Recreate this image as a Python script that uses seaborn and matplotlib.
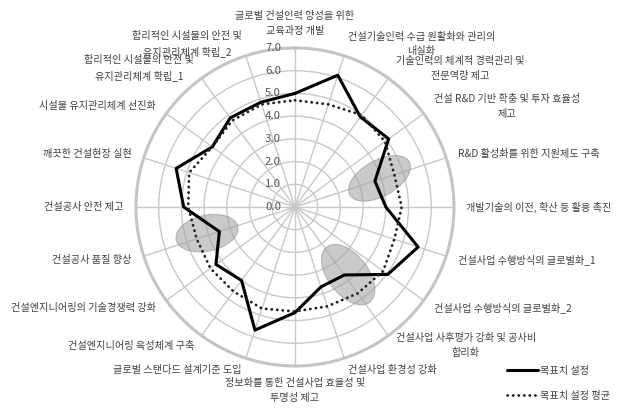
import numpy as np
import pandas as pd
import matplotlib
matplotlib.use("Agg")
import matplotlib.pyplot as plt
import seaborn as sns
from matplotlib.patches import Ellipse
from matplotlib.transforms import IdentityTransform, offset_copy

# categories, clockwise from the top
categories = [
    "글로벌 건설인력 양성을 위한\n교육과정 개발",
    "건설기술인력 수급 원활화와 관리의\n내실화",
    "기술인력의 체계적 경력관리 및\n전문역량 제고",
    "건설 R&D 기반 확충 및 투자 효율성\n제고",
    "R&D 활성화를 위한 지원제도 구축",
    "개발기술의 이전, 확산 등 활용 촉진",
    "건설사업 수행방식의 글로벌화_1",
    "건설사업 수행방식의 글로벌화_2",
    "건설사업 사후평가 강화 및 공사비\n합리화",
    "건설사업 환경성 강화",
    "정보화를 통한 건설사업 효율성 및\n투명성 제고",
    "글로벌 스탠다드 설계기준 도입",
    "건설엔지니어링 육성체계 구축",
    "건설엔지니어링의 기술경쟁력 강화",
    "건설공사 품질 향상",
    "건설공사 안전 제고",
    "깨끗한 건설현장 실현",
    "시설물 유지관리체계 선진화",
    "합리적인 시설물의 안전 및\n유지관리체계 확립_1",
    "합리적인 시설물의 안전 및\n유지관리체계 확립_2",
]
target = [5.0, 6.1, 4.9, 5.1, 3.7, 4.0, 5.7, 5.05, 3.7, 3.7,
          4.65, 5.7, 4.0, 4.3, 3.5, 4.9, 5.5, 4.5, 4.85, 4.85]
target_avg = [4.7, 4.75, 5.0, 4.9, 4.6, 4.7, 4.6, 4.8, 4.7, 4.6,
              4.6, 4.7, 4.6, 4.6, 4.55, 4.7, 4.9, 4.5, 4.7, 4.75]
r_ticks = [0, 1, 2, 3, 4, 5, 6, 7]
series_names = ["목표치 설정", "목표치 설정 평균"]

# highlighted areas: (category position, radius value)
highlight_pos = [(3.96, 3.93), (14.08, 4.04), (7.88, 3.79)]

sns.set_theme(style="white")
plt.rcParams["font.family"] = ["Noto Sans CJK KR", "DejaVu Sans"]

n = len(categories)
theta = np.arange(n) * 2 * np.pi / n
theta_closed = np.append(theta, 2 * np.pi)

df_target = pd.DataFrame({"theta": theta_closed, "value": target + [target[0]]})
df_avg = pd.DataFrame({"theta": theta_closed, "value": target_avg + [target_avg[0]]})

fig = plt.figure(figsize=(6.24, 4.12), dpi=100)
ax = fig.add_axes([0.2179, 0.1117, 0.5096, 0.7718], projection="polar")
ax.set_theta_zero_location("N")
ax.set_theta_direction(-1)
ax.set_ylim(0, 7)

# grid
ax.set_xticks(theta)
ax.set_xticklabels([])
ax.set_yticks(r_ticks[1:])
ax.set_yticklabels([])
ax.grid(True, color="#c8c8c8", linewidth=1.0)
ax.spines["polar"].set_color("#c4c4c4")
ax.spines["polar"].set_linewidth(2.2)

# highlight ellipses
ell_sizes = [(68, 36, 29), (63, 36, 12), (70, 40, -52)]
for (pos, rv), (w, h, ang) in zip(highlight_pos, ell_sizes):
    cx, cy = ax.transData.transform((pos * 2 * np.pi / n, rv))
    e = Ellipse((cx, cy), w, h, angle=ang, transform=IdentityTransform(),
                facecolor="#a0a0a0", edgecolor="#8c8c8c", alpha=0.55,
                linewidth=0.8, zorder=1.5, clip_on=False)
    ax.add_patch(e)

sns.lineplot(data=df_target, x="theta", y="value", ax=ax, sort=False,
             estimator=None, color="black", linewidth=2.2,
             label=series_names[0], zorder=3)
sns.lineplot(data=df_avg, x="theta", y="value", ax=ax, sort=False,
             estimator=None, color="#222222", linewidth=2.0,
             linestyle=(0, (0.1, 1.9)), dash_capstyle="round",
             label=series_names[1], zorder=3)
ax.set_xlabel("")
ax.set_ylabel("")
ax.set_ylim(0, 7)

# radial tick labels
tick_tr = offset_copy(ax.transData, fig=fig, x=-14, y=0, units="dots")
for v in r_ticks:
    ax.text(0, v, f"{v:.1f}", transform=tick_tr, ha="right", va="center",
            fontsize=8.2, color="#555555", zorder=4)

# category labels
for t, lab in zip(theta, categories):
    s = np.sin(t)
    c = np.cos(t)
    if abs(s) < 0.01:
        ha = "center"
        va = "bottom" if c > 0 else "top"
    else:
        ha = "left" if s > 0 else "right"
        va = "center"
    ax.text(t, 7.55, lab, ha=ha, va=va, multialignment="center",
            fontsize=7.3, color="#404040", linespacing=1.6)

ax.legend_.remove()
handles, labels = ax.get_legend_handles_labels()
fig.legend(handles, labels, loc="upper left", bbox_to_anchor=(0.805, 0.125),
           frameon=False, fontsize=7.3, handlelength=3.0, handletextpad=0.2,
           labelspacing=1.5, borderpad=0, labelcolor="#404040")

fig.savefig("out.png", dpi=100)
